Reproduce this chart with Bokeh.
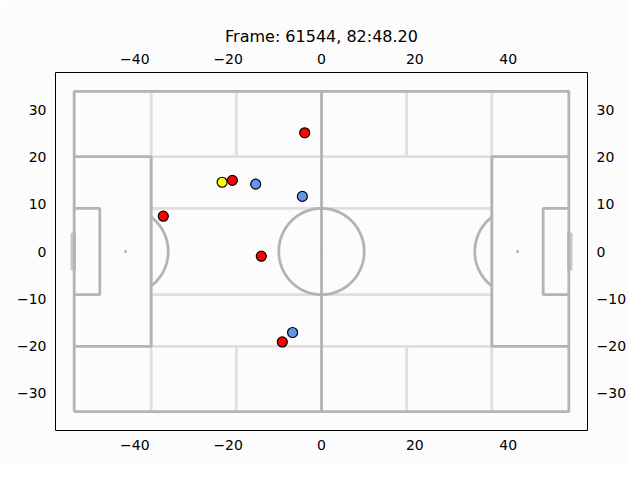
import numpy as np
from bokeh.plotting import figure
from bokeh.models import Range1d, FixedTicker, LinearAxis
from bokeh.embed import file_html
from bokeh.resources import INLINE

# ---- data ----
TITLE = "Frame: 61544, 82:48.20"
home_x = [-3.6, -19.1, -33.9, -12.9, -8.4]
home_y = [25.2, 15.1, 7.5, -1.0, -19.2]
away_x = [-14.1, -4.1, -6.2]
away_y = [14.3, 11.7, -17.2]
ball_x = [-21.3]
ball_y = [14.7]
x_ticks = [-40, -20, 0, 20, 40]
y_ticks = [-30, -20, -10, 0, 10, 20, 30]

# pitch dimensions (metres)
PITCH_LENGTH = 106.0
PITCH_WIDTH = 68.0
BOX_DEPTH = 16.5
BOX_HALF_W = 20.16
SIX_DEPTH = 5.5
SIX_HALF_W = 9.16
SPOT_DIST = 11.0
CIRCLE_R = 9.15
GOAL_HALF_W = 4.0

GREY = "#b3b3b3"
PINK = "#e6dcdc"
BG = "#fcfcfc"
FONT = "DejaVu Sans"

p = figure(frame_width=532, frame_height=358,
           min_border_left=55, min_border_right=37,
           min_border_top=72, min_border_bottom=34,
           x_range=Range1d(-57, 57), y_range=Range1d(-38, 38),
           output_backend="svg", toolbar_location=None,
           x_axis_location="below", y_axis_location="left",
           title=TITLE)

p.background_fill_color = BG
p.border_fill_color = BG
p.outline_line_color = "black"
p.outline_line_width = 1
p.grid.visible = False

p.title.text_font = FONT
p.title.text_font_size = "16px"
p.title.text_font_style = "normal"
p.title.align = "center"
p.title.text_color = "black"

p.add_layout(LinearAxis(), "above")
p.add_layout(LinearAxis(), "right")


def minus(v):
    return str(v).replace("-", "\u2212")


for ax in p.xaxis:
    ax.ticker = FixedTicker(ticks=x_ticks)
    ax.major_label_overrides = {t: minus(t) for t in x_ticks}
for ax in p.yaxis:
    ax.ticker = FixedTicker(ticks=y_ticks)
    ax.major_label_overrides = {t: minus(t) for t in y_ticks}
for ax in p.xaxis + p.yaxis:
    ax.axis_line_color = None
    ax.major_tick_line_color = None
    ax.minor_tick_line_color = None
    ax.major_tick_out = 0
    ax.major_tick_in = 0
    ax.major_label_text_font = FONT
    ax.major_label_text_font_size = "14px"
    ax.major_label_text_color = "black"
    ax.major_label_standoff = 9

hl = PITCH_LENGTH / 2
hw = PITCH_WIDTH / 2
box_x = hl - BOX_DEPTH
mid_x = box_x / 2

# positional-play zone lines
pxs, pys = [], []
for s in (-1, 1):
    pxs.append([s * box_x, s * box_x]); pys.append([-hw, hw])
    for t in (-1, 1):
        pxs.append([s * mid_x, s * mid_x]); pys.append([t * hw, t * BOX_HALF_W])
for yy in (-BOX_HALF_W, -SIX_HALF_W, SIX_HALF_W, BOX_HALF_W):
    pxs.append([-box_x, box_x]); pys.append([yy, yy])
p.multi_line(pxs, pys, line_color=PINK, line_width=2.8)

# pitch markings
gxs, gys = [], []
gxs.append([-hl, hl, hl, -hl, -hl]); gys.append([-hw, -hw, hw, hw, -hw])
gxs.append([0, 0]); gys.append([-hw, hw])
th = np.linspace(0, 2 * np.pi, 200)
gxs.append(list(CIRCLE_R * np.cos(th))); gys.append(list(CIRCLE_R * np.sin(th)))
a = np.arccos((BOX_DEPTH - SPOT_DIST) / CIRCLE_R)
for s in (-1, 1):
    gxs.append([s * hl, s * box_x, s * box_x, s * hl])
    gys.append([-BOX_HALF_W, -BOX_HALF_W, BOX_HALF_W, BOX_HALF_W])
    sx = s * (hl - SIX_DEPTH)
    gxs.append([s * hl, sx, sx, s * hl])
    gys.append([-SIX_HALF_W, -SIX_HALF_W, SIX_HALF_W, SIX_HALF_W])
    ang = np.linspace(-a, a, 60)
    spot = s * (hl - SPOT_DIST)
    gxs.append(list(spot - s * CIRCLE_R * np.cos(ang)))
    gys.append(list(CIRCLE_R * np.sin(ang)))
p.multi_line(gxs, gys, line_color=GREY, line_width=2.8)

p.scatter([-(hl - SPOT_DIST), 0, hl - SPOT_DIST], [0, 0, 0], size=3,
          fill_color=GREY, line_color=None)
p.multi_line([[-hl - 0.2, -hl - 0.2], [hl + 0.2, hl + 0.2]],
             [[-GOAL_HALF_W, GOAL_HALF_W], [-GOAL_HALF_W, GOAL_HALF_W]],
             line_color=GREY, line_width=5.5, line_alpha=0.7)

# players and ball
p.scatter(home_x, home_y, size=10, fill_color="red", line_color="black", line_width=1.2)
p.scatter(away_x, away_y, size=10, fill_color="cornflowerblue", line_color="black", line_width=1.2)
p.scatter(ball_x, ball_y, size=10, fill_color="yellow", line_color="black", line_width=1.2)

open("out.html", "w").write(file_html(p, INLINE))
